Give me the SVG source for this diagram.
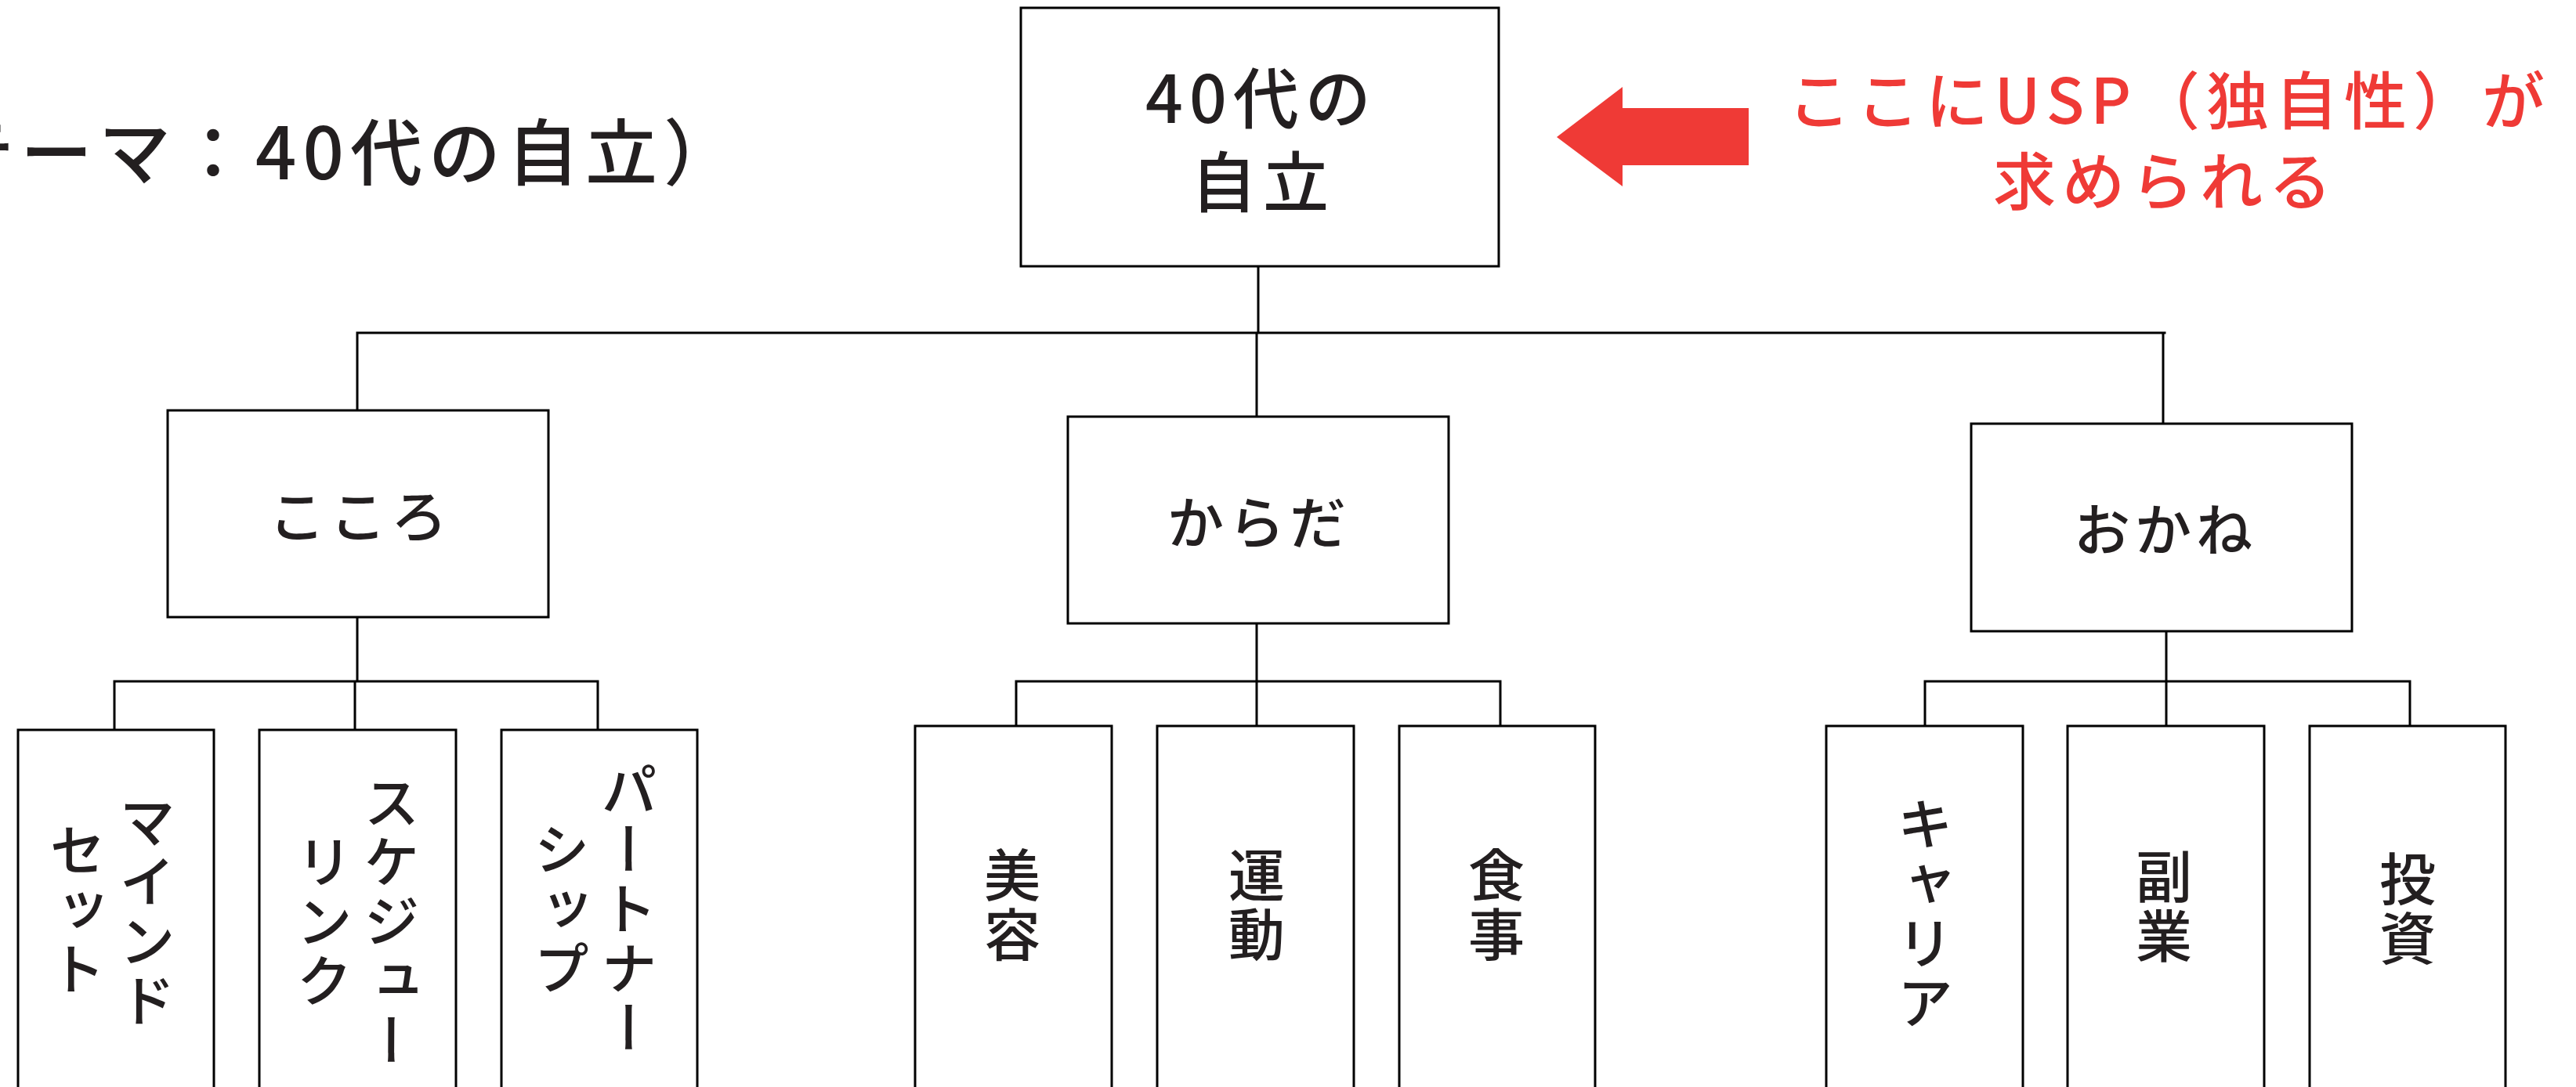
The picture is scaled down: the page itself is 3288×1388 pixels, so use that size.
<svg xmlns="http://www.w3.org/2000/svg" width="3288" height="1388" viewBox="0 0 3288 1388">
<style>
.box{fill:#fff;stroke:#000;stroke-width:3}
.ln{fill:none;stroke:#000;stroke-width:3;stroke-linecap:square}
.t{font-family:"Noto Sans CJK JP","Noto Sans",sans-serif;fill:#231f20;font-weight:500}
.h{font-size:72px;letter-spacing:6px;text-anchor:middle}
.v{font-size:72px;letter-spacing:4px;text-anchor:middle;writing-mode:vertical-rl}
.red{font-family:"Noto Sans CJK JP","Noto Sans",sans-serif;fill:#ef3a36;font-weight:500;font-size:80px;letter-spacing:8px;text-anchor:middle}
</style>
<rect width="3288" height="1388" fill="#fff"/>
<g id="connectors">
<path class="ln" d="M1606 340V425M456 425H2763M456 425V524M1604 425V532M2761 425V541"/>
<path class="ln" d="M456 788V870M146 870H763M146 870V932M453 870V932M763 870V932"/>
<path class="ln" d="M1604 796V870M1297 870H1915M1297 870V927M1604 870V927M1915 870V927"/>
<path class="ln" d="M2765 806V870M2457 870H3076M2457 870V927M2765 870V927M3076 870V927"/>
</g>
<g id="title">
<text class="t" x="-174" y="229" font-size="92" letter-spacing="8">（テーマ：40代の自立）</text>
</g>
<g id="root">
<rect class="box" x="1303" y="10" width="610" height="330"/>
<text class="t" x="1610" y="157" font-size="84" letter-spacing="8" text-anchor="middle">40代の</text>
<text class="t" x="1612" y="264" font-size="84" letter-spacing="8" text-anchor="middle">自立</text>
</g>
<g id="usp-note">
<polygon points="1987,175 2071,111 2071,138 2232,138 2232,211 2071,211 2071,238" fill="#ef3a36"/>
<text class="red" x="2769" y="158">ここにUSP（独自性）が</text>
<text class="red" x="2764" y="261">求められる</text>
</g>
<g id="kokoro">
<rect class="box" x="214" y="524" width="486" height="264"/>
<text class="t h" x="460" y="686">こころ</text>
</g>
<g id="karada">
<rect class="box" x="1363" y="532" width="486" height="264"/>
<text class="t h" x="1607" y="694">からだ</text>
</g>
<g id="okane">
<rect class="box" x="2516" y="541" width="486" height="265"/>
<text class="t h" x="2764" y="703">おかね</text>
</g>
<g id="mindset">
<rect class="box" x="23" y="932" width="250" height="470"/>
<text class="t v" x="188" y="1165">マインド</text>
<text class="t v" x="99" y="1163">セット</text>
</g>
<g id="schedule">
<rect class="box" x="331" y="932" width="251" height="470"/>
<text class="t v" x="500" y="1178">スケジュー</text>
<text class="t v" x="414" y="1178">リンク</text>
</g>
<g id="partnership">
<rect class="box" x="640" y="932" width="250" height="470"/>
<text class="t v" x="803" y="1162">パートナー</text>
<text class="t v" x="717" y="1162">シップ</text>
</g>
<g id="biyou">
<rect class="box" x="1168" y="927" width="251" height="475"/>
<text class="t v" x="1292" y="1157">美容</text>
</g>
<g id="undou">
<rect class="box" x="1477" y="927" width="251" height="475"/>
<text class="t v" x="1604" y="1157">運動</text>
</g>
<g id="shokuji">
<rect class="box" x="1786" y="927" width="250" height="475"/>
<text class="t v" x="1910" y="1157">食事</text>
</g>
<g id="career">
<rect class="box" x="2331" y="927" width="251" height="475"/>
<text class="t v" x="2457" y="1168">キャリア</text>
</g>
<g id="fukugyou">
<rect class="box" x="2639" y="927" width="251" height="475"/>
<text class="t v" x="2762" y="1159">副業</text>
</g>
<g id="toushi">
<rect class="box" x="2948" y="927" width="250" height="475"/>
<text class="t v" x="3073" y="1162">投資</text>
</g>
</svg>
